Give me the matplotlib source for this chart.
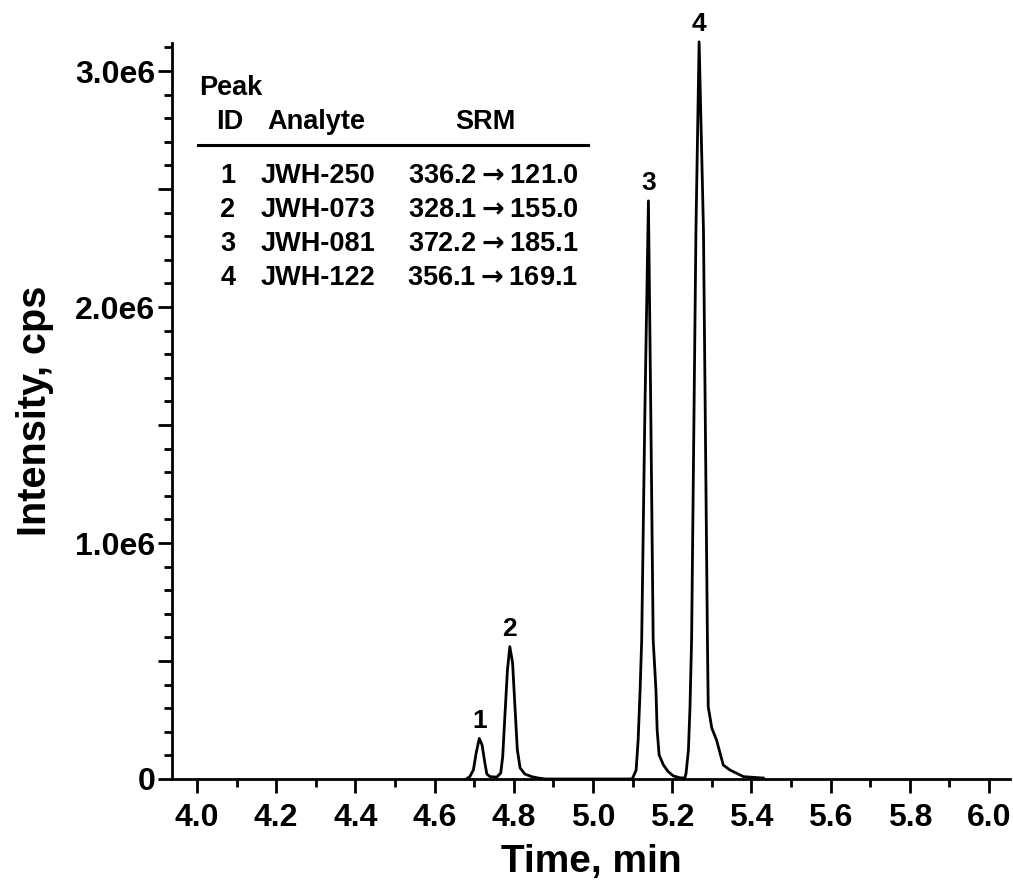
import numpy as np
import matplotlib as mpl
import matplotlib.pyplot as plt
from matplotlib.ticker import MultipleLocator, FuncFormatter

mpl.rc('font', family='Liberation Sans', weight='bold', size=23)
mpl.rc('axes', linewidth=2.0)
mpl.rc('mathtext', default='bf')

##### DATA #####

# retention time (min) and intensity (units of 1e6 cps)
time_min = [4.680, 4.689, 4.698, 4.705, 4.713, 4.720, 4.727, 4.732, 4.740, 4.757,
            4.767, 4.772, 4.778, 4.784, 4.790, 4.797, 4.803, 4.809, 4.816, 4.828,
            4.845, 4.862, 4.880,
            5.095, 5.100, 5.109, 5.114, 5.119, 5.123, 5.131, 5.140, 5.146, 5.152,
            5.159, 5.162, 5.167, 5.178, 5.190, 5.203, 5.220, 5.232,
            5.235, 5.241, 5.245, 5.249, 5.260, 5.268, 5.279, 5.289, 5.291, 5.300,
            5.312, 5.321, 5.329, 5.346, 5.363, 5.380, 5.405, 5.430]
intensity_e6 = [0.000, 0.010, 0.038, 0.110, 0.172, 0.144, 0.068, 0.021, 0.010, 0.008,
                0.025, 0.094, 0.280, 0.462, 0.561, 0.492, 0.306, 0.123, 0.047, 0.021,
                0.010, 0.004, 0.000,
                0.000, 0.003, 0.038, 0.165, 0.377, 0.589, 1.551, 2.450, 1.551, 0.589,
                0.377, 0.208, 0.102, 0.059, 0.031, 0.013, 0.005, 0.004,
                0.024, 0.123, 0.306, 0.589, 2.326, 3.124, 2.326, 0.589, 0.306, 0.216,
                0.165, 0.109, 0.059, 0.038, 0.024, 0.010, 0.007, 0.004]

peak_ids = ["1", "2", "3", "4"]
peak_rt = [4.713, 4.790, 5.140, 5.268]
analytes = ["JWH-250", "JWH-073", "JWH-081", "JWH-122"]
precursor = ["336.2", "328.1", "372.2", "356.1"]
product = ["121.0", "155.0", "185.1", "169.1"]

##### END DATA #####

t = np.array(time_min)
y = np.array(intensity_e6) * 1e6

W, H = 1013, 883
fig = plt.figure(figsize=(W / 100, H / 100), dpi=100)
ax = fig.add_axes([172 / W, 1 - 779 / H, (1010 - 172) / W, (779 - 43) / H])

ax.plot(t, y, color='k', lw=2.0, solid_joinstyle='round', clip_on=False)

ax.set_xlim(3.937, 6.053)
ax.set_ylim(0, 3.119e6)

for s in ['top', 'right']:
    ax.spines[s].set_visible(False)

ax.xaxis.set_major_locator(MultipleLocator(0.2))
ax.xaxis.set_minor_locator(MultipleLocator(0.1))
ax.xaxis.set_major_formatter(FuncFormatter(lambda v, p: "%.1f" % v))
ax.yaxis.set_major_locator(MultipleLocator(0.5e6))
ax.yaxis.set_minor_locator(MultipleLocator(0.1e6))


def yfmt(v, p):
    if abs(v) < 1:
        return "0"
    if abs(v / 1e6 - round(v / 1e6)) > 1e-6:
        return ""
    return "%.1fe6" % (v / 1e6)


ax.yaxis.set_major_formatter(FuncFormatter(yfmt))
ax.tick_params(which='major', length=10, width=2.0, direction='out')
ax.tick_params(which='minor', length=5.5, width=2.0, direction='out')
ax.tick_params(axis='x', which='major', pad=7, labelsize=23)
ax.tick_params(axis='y', which='major', pad=2, labelsize=23)

ax.set_xlabel("Time, min", fontsize=28, fontweight='bold', labelpad=8)
ax.set_ylabel("Intensity, cps", fontsize=28.5, fontweight='bold', labelpad=15)

# peak labels above each apex
for pid, rt in zip(peak_ids, peak_rt):
    win = np.abs(t - rt) < 0.02
    i = np.argmax(np.where(win, y, -1))
    ax.annotate(pid, xy=(t[i], y[i]), xytext=(0, 4), textcoords='offset points',
                ha='center', va='bottom', fontsize=19, fontweight='bold',
                annotation_clip=False)

# analyte table (figure pixel coords)
def fx(px):
    return px / W


def fy(py):
    return 1 - py / H


tfs = 19.5
fig.text(fx(231), fy(88), "Peak", ha='center', va='center', fontsize=tfs)
fig.text(fx(230), fy(122), "ID", ha='center', va='center', fontsize=tfs)
fig.text(fx(316), fy(122), "Analyte", ha='center', va='center', fontsize=tfs)
fig.text(fx(485), fy(122), "SRM", ha='center', va='center', fontsize=tfs)
fig.add_artist(plt.Line2D([fx(198), fx(588)], [fy(145), fy(145)],
                          color='k', lw=2.2, transform=fig.transFigure))

row_y = [176, 210, 244, 278]
for k in range(len(peak_ids)):
    fig.text(fx(228), fy(row_y[k]), peak_ids[k], ha='center', va='center', fontsize=tfs)
    fig.text(fx(318), fy(row_y[k]), analytes[k], ha='center', va='center', fontsize=tfs)
    fig.text(fx(493), fy(row_y[k]), precursor[k] + r"$\rightarrow$" + product[k],
             ha='center', va='center', fontsize=tfs)

fig.savefig("out.png", dpi=100)
